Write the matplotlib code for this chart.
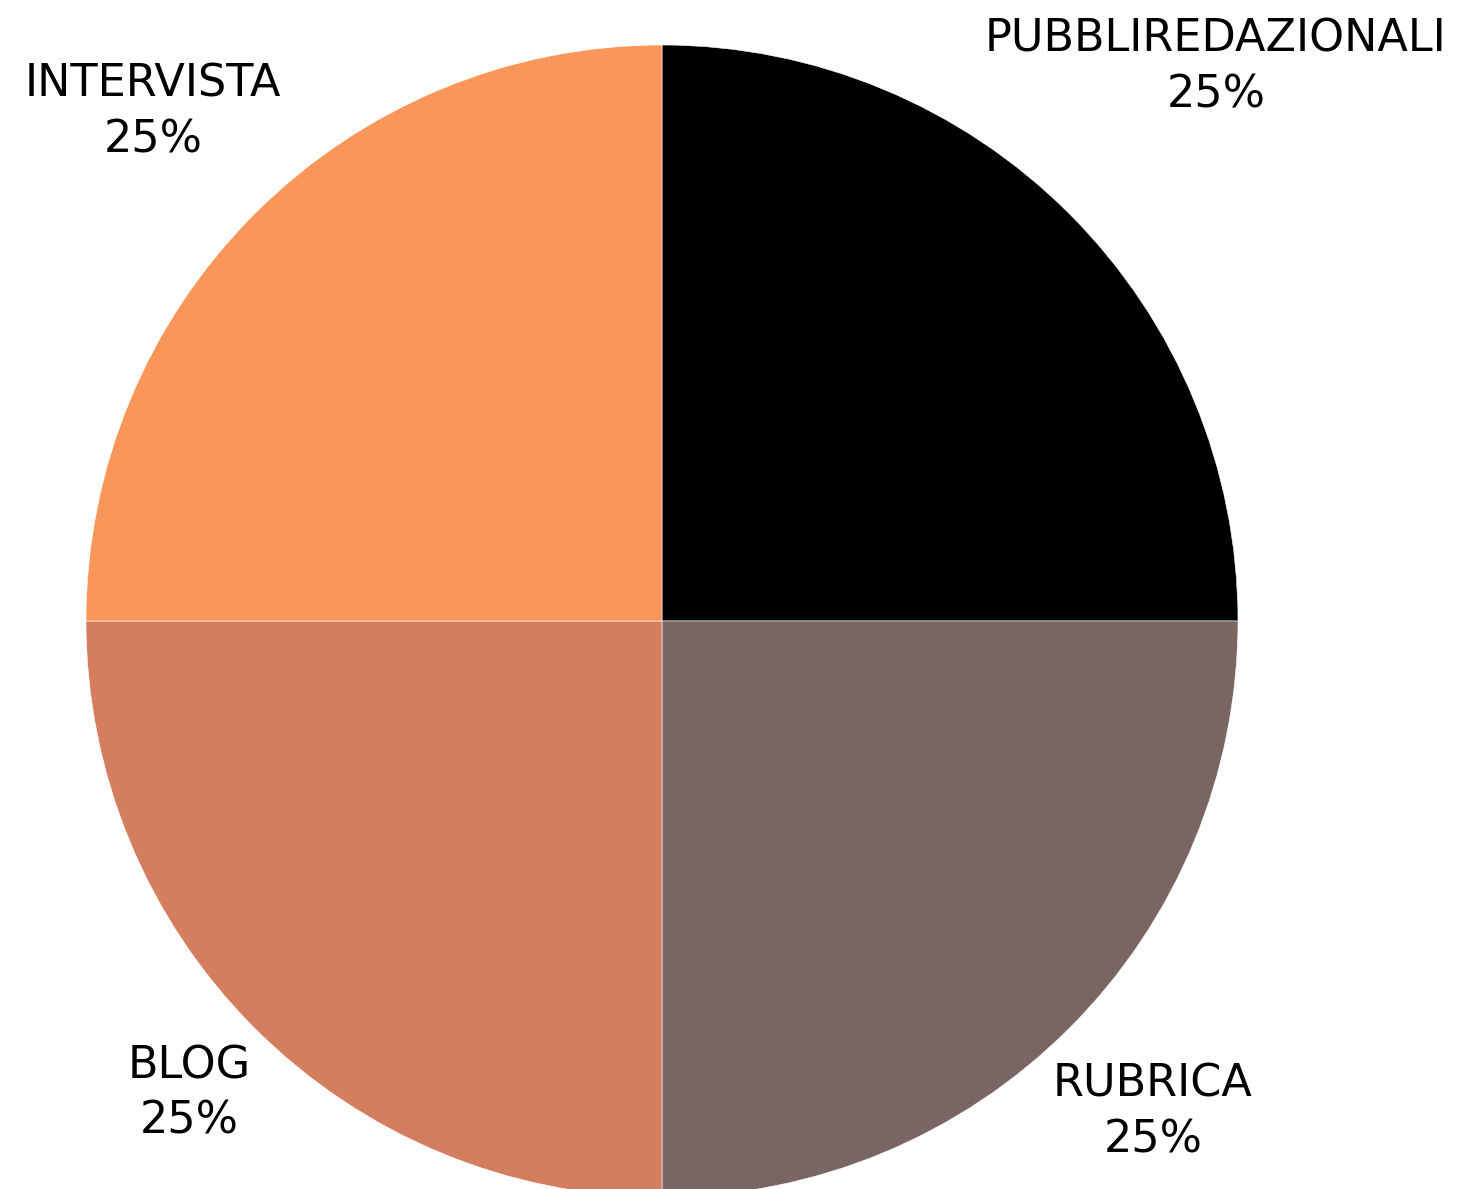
import matplotlib
matplotlib.use("Agg")
import matplotlib.pyplot as plt
import numpy as np

categories = ["PUBBLIREDAZIONALI", "RUBRICA", "BLOG", "INTERVISTA"]
values = [25, 25, 25, 25]
colors = ["#000000", "#7B6563", "#D57D5F", "#FB965B"]
label_dist = [1.36, 1.205, 1.16, 1.25]

W, H = 1472, 1189
fig = plt.figure(figsize=(W / 100, H / 100), dpi=100)
ax = fig.add_axes([0, 0, 1, 1])

cx, cy, R = 662, H - 621, 576
wedges, _ = ax.pie(values, colors=colors, startangle=90, counterclock=False,
                   center=(cx, cy), radius=R,
                   wedgeprops=dict(edgecolor="white", linewidth=0.4))
ax.set_xlim(0, W)
ax.set_ylim(0, H)
ax.set_aspect("equal")
ax.axis("off")

total = sum(values)
for w, cat, v, d in zip(wedges, categories, values, label_dist):
    ang = np.deg2rad((w.theta1 + w.theta2) / 2)
    x = cx + d * R * np.cos(ang)
    y = cy + d * R * np.sin(ang)
    ax.text(x, y, f"{cat}\n{v / total * 100:.0f}%", ha="center", va="center",
            fontsize=32, family="DejaVu Sans", fontweight="normal",
            linespacing=1.37, color="#000000")

fig.savefig("out.png", dpi=100)
